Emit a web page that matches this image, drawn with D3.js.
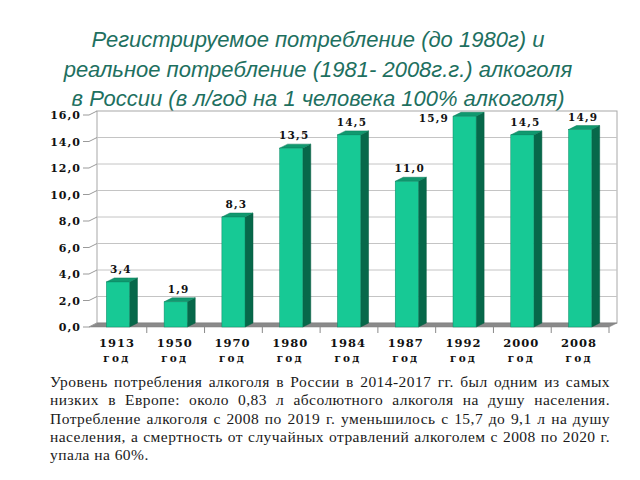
<!DOCTYPE html>
<html><head><meta charset="utf-8">
<script src="https://cdn.jsdelivr.net/npm/d3@7"></script>
<style>
html,body{margin:0;padding:0;background:#fff;}
svg{display:block;}
</style></head>
<body>
<svg id="chart" width="640" height="480"></svg>
<script>
const titleLines = [
  "Регистрируемое потребление (до 1980г) и",
  "реальное потребление (1981- 2008г.г.) алкоголя",
  "в России (в л/год на 1 человека 100% алкоголя)"
];
const categories = ["1913","1950","1970","1980","1984","1987","1992","2000","2008"];
const categorySuffix = "год";
const values = [3.4, 1.9, 8.3, 13.5, 14.5, 11.0, 15.9, 14.5, 14.9];
const yTicks = [0, 2, 4, 6, 8, 10, 12, 14, 16];
const noteLines = [
  "Уровень потребления алкоголя в России в 2014-2017 гг. был одним из самых",
  "низких в Европе: около 0,83 л абсолютного алкоголя на душу населения.",
  "Потребление алкоголя с 2008 по 2019 г. уменьшилось с 15,7 до 9,1 л на душу",
  "населения, а смертность от случайных отравлений алкоголем с 2008 по 2020 г.",
  "упала на 60%."
];

const svg = d3.select("#chart");
const fmt = v => d3.format(".1f")(v).replace(".", ",");

// geometry
const X0 = 89, X1 = 609, DX = 8, DY = -4;
const x = d3.scaleBand().domain(categories).range([X0, X1]).paddingInner(0.6).paddingOuter(0.3);
const xs = d3.scaleBand().domain(categories).range([X0, X1]).padding(0);
const y = d3.scaleLinear().domain([0, 16]).range([327, 115]);
const bw = x.bandwidth();

// title
const titleColor = "#1e705f";
svg.append("g").selectAll("text").data(titleLines).join("text")
  .attr("x", 318).attr("y", (d, i) => 47 + i * 29.5)
  .attr("text-anchor", "middle")
  .attr("font-family", "'Liberation Sans', Arial, sans-serif")
  .attr("font-style", "italic")
  .attr("font-size", 22)
  .attr("fill", titleColor)
  .text(d => d);

// back wall
const wall = svg.append("g");
wall.append("rect")
  .attr("x", X0 + DX).attr("y", y(16) + DY)
  .attr("width", X1 - X0).attr("height", y(0) - y(16))
  .attr("fill", "#fff").attr("stroke", "#a8a8a8").attr("stroke-width", 1);
wall.selectAll("line.grid").data(yTicks.filter(t => t > 0 && t < 16)).join("line")
  .attr("class", "grid")
  .attr("x1", X0 + DX).attr("x2", X1 + DX)
  .attr("y1", d => y(d) + DY).attr("y2", d => y(d) + DY)
  .attr("stroke", "#c4c4c4").attr("stroke-width", 1);

// floor
svg.append("path")
  .attr("d", `M${X0},${y(0)} L${X1},${y(0)} L${X1 + DX},${y(0) + DY} L${X0 + DX},${y(0) + DY} Z`)
  .attr("fill", "#8a8a8a").attr("stroke", "#7a7a7a").attr("stroke-width", 0.5);

// y axis ticks and labels
const yAxis = svg.append("g");
yAxis.selectAll("path").data(yTicks).join("path")
  .attr("d", d => `M${X0 - 6},${y(d)} L${X0},${y(d)} L${X0 + DX},${y(d) + DY}`)
  .attr("fill", "none").attr("stroke", "#9a9a9a").attr("stroke-width", 1);
yAxis.selectAll("text").data(yTicks).join("text")
  .attr("x", 81).attr("y", d => y(d) + 4)
  .attr("text-anchor", "end")
  .attr("font-family", "'DejaVu Serif', serif")
  .attr("font-weight", "bold")
  .attr("font-size", 11)
  .attr("letter-spacing", 1)
  .attr("fill", "#111")
  .text(d => fmt(d));

// category ticks
const xt = svg.append("g");
xt.selectAll("line").data(categories.slice(1).map(c => xs(c)).concat([X1])).join("line")
  .attr("x1", d => d).attr("x2", d => d)
  .attr("y1", y(0)).attr("y2", y(0) + 6)
  .attr("stroke", "#8a8a8a").attr("stroke-width", 1);

// bars
const bars = svg.append("g").selectAll("g").data(categories.map((c, i) => ({c, v: values[i]}))).join("g");
bars.append("path") // side
  .attr("d", d => {
    const bx = x(d.c) + bw, yt = y(d.v), yb = y(0);
    return `M${bx},${yt} L${bx + DX},${yt + DY} L${bx + DX},${yb + DY} L${bx},${yb} Z`;
  })
  .attr("fill", "#07684a").attr("stroke", "#055a40").attr("stroke-width", 0.5);
bars.append("path") // top
  .attr("d", d => {
    const bx = x(d.c), yt = y(d.v);
    return `M${bx},${yt} L${bx + DX},${yt + DY} L${bx + bw + DX},${yt + DY} L${bx + bw},${yt} Z`;
  })
  .attr("fill", "#10996f").attr("stroke", "#0b7a58").attr("stroke-width", 0.5);
bars.append("rect") // front
  .attr("x", d => x(d.c)).attr("y", d => y(d.v))
  .attr("width", bw).attr("height", d => y(0) - y(d.v))
  .attr("fill", "#17c995").attr("stroke", "#0e8a66").attr("stroke-width", 0.5);

// value labels
const tooHigh = d => y(d.v) - 9 < 118;
bars.append("text")
  .attr("x", d => tooHigh(d) ? x(d.c) - 4 : x(d.c) + bw / 2 + 3)
  .attr("y", d => tooHigh(d) ? y(d.v) + 6 : y(d.v) - 9)
  .attr("text-anchor", d => tooHigh(d) ? "end" : "middle")
  .attr("font-family", "'DejaVu Serif', serif")
  .attr("font-weight", "bold")
  .attr("font-size", 10.5)
  .attr("letter-spacing", 1.2)
  .attr("fill", "#111")
  .text(d => fmt(d.v));

// category labels
const cl = svg.append("g").selectAll("text").data(categories).join("text")
  .attr("text-anchor", "middle")
  .attr("font-family", "'DejaVu Serif', serif")
  .attr("font-weight", "bold")
  .attr("fill", "#111");
cl.append("tspan")
  .attr("x", d => xs(d) + xs.bandwidth() / 2 - 1).attr("y", 347)
  .attr("font-size", 11.5).attr("letter-spacing", 1)
  .text(d => d);
cl.append("tspan")
  .attr("x", d => xs(d) + xs.bandwidth() / 2 - 1).attr("y", 362)
  .attr("font-size", 10.5).attr("letter-spacing", 2.2)
  .text(categorySuffix);

// note paragraph, justified
const NL = 50, NR = 610;
const notes = svg.append("g");
noteLines.forEach((line, i) => {
  const t = notes.append("text")
    .attr("x", NL).attr("y", 387 + i * 18.3)
    .attr("font-family", "'Liberation Serif', 'Times New Roman', serif")
    .attr("font-size", 15.5)
    .attr("letter-spacing", 0.45)
    .attr("fill", "#1a1a1a")
    .text(line);
  if (i < noteLines.length - 1) {
    const w = t.node().getComputedTextLength();
    const spaces = (line.match(/ /g) || []).length;
    if (spaces > 0) t.attr("word-spacing", Math.max(0, (NR - NL - w) / spaces));
  }
});
</script>
</body></html>
